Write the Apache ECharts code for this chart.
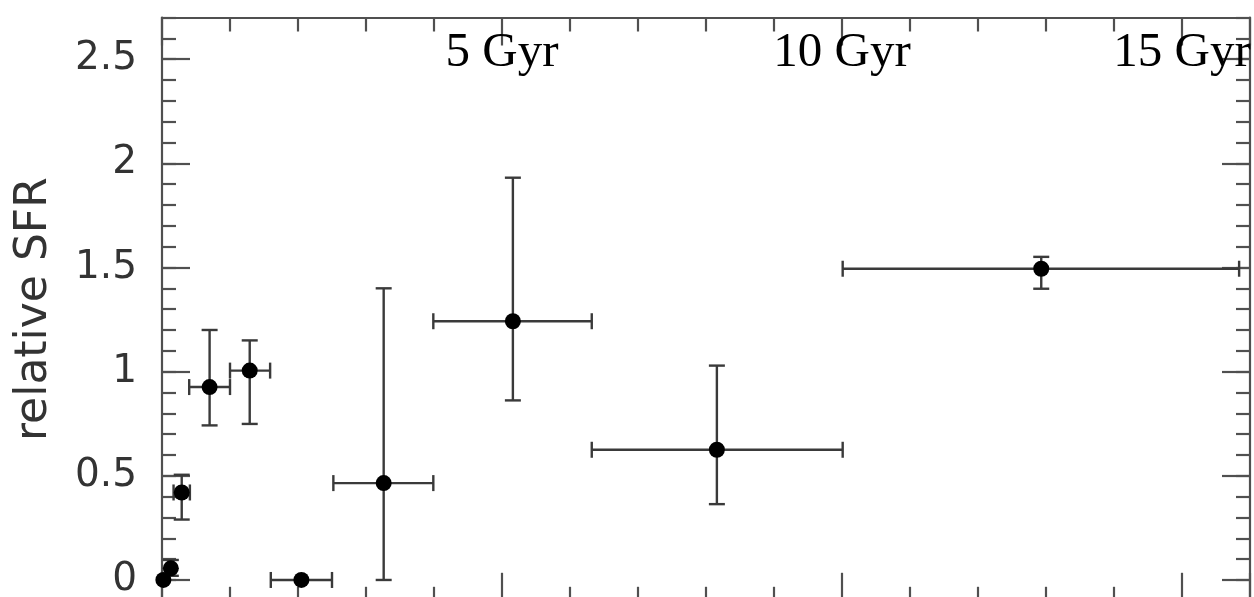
<!DOCTYPE html>
<html><head><meta charset="utf-8">
<script src="https://cdn.jsdelivr.net/npm/echarts@6/dist/echarts.min.js"></script>
<style>html,body{margin:0;padding:0;overflow:hidden;background:#fff}#c{width:1254px;height:606px}</style>
</head><body><div id="c"></div>
<script>
// Age (Gyr) bins and relative star formation rate
const ageX  = [0.02, 0.13, 0.29, 0.70, 1.29, 2.05, 3.26, 5.16, 8.16, 12.93];
const sfr   = [0.00, 0.056, 0.42, 0.926, 1.005, 0.00, 0.465, 1.242, 0.625, 1.494];
const ageLo = [null, null, 0.17, 0.40, 1.00, 1.60, 2.52, 3.99, 6.32, 10.01];
const ageHi = [null, null, 0.41, 1.00, 1.59, 2.50, 3.99, 6.32, 10.01, 15.84];
const sfrLo = [null, 0.02, 0.29, 0.742, 0.749, null, 0.00, 0.862, 0.364, 1.398];
const sfrHi = [null, 0.096, 0.505, 1.20, 1.15, null, 1.40, 1.931, 1.029, 1.551];
const yMajorTicks = [0, 0.5, 1, 1.5, 2, 2.5];
const gyrLabels = ['5 Gyr', '10 Gyr', '15 Gyr'];
const gyrX = [5, 10, 15];
const gyrY = 2.53;

const AX = '#505050';
const chart = echarts.init(document.getElementById('c'), null, {renderer: 'canvas'});

function xAxisDef(pos) {
  return {
    type: 'value', position: pos, min: 0, max: 16, interval: 5,
    axisLine: {show: true, onZero: false, lineStyle: {color: AX, width: 2.2}},
    axisTick: {show: true, inside: true, length: 28, lineStyle: {color: AX, width: 2.2}},
    minorTick: {show: true, splitNumber: 5, length: 14, lineStyle: {color: AX, width: 2.2}},
    axisLabel: {show: false}, splitLine: {show: false}, minorSplitLine: {show: false}
  };
}
function yMajorDef(pos, labels) {
  return {
    type: 'value', position: pos, min: -0.1, max: 2.7,
    axisLine: {show: true, onZero: false, lineStyle: {color: AX, width: 2.2}},
    axisTick: {show: true, inside: true, length: 28, customValues: yMajorTicks, lineStyle: {color: AX, width: 2.2}},
    axisLabel: labels ? {show: true, customValues: yMajorTicks, fontSize: 39, fontFamily: 'DejaVu Sans', color: '#333', margin: 25} : {show: false},
    splitLine: {show: false}
  };
}
function yMinorDef(pos) {
  return {
    type: 'value', position: pos, min: -0.1, max: 2.7, interval: 0.1,
    axisLine: {show: false, onZero: false},
    axisTick: {show: true, inside: true, length: 14, lineStyle: {color: AX, width: 2.2}},
    axisLabel: {show: false}, splitLine: {show: false}
  };
}

const yLeft = yMajorDef('left', true);
yLeft.name = 'relative SFR';
yLeft.nameLocation = 'middle';
yLeft.nameGap = 105;
yLeft.nameTextStyle = {fontSize: 44, fontFamily: 'DejaVu Sans', color: '#333'};

const errData = ageX.map((x, i) => [x, sfr[i], ageLo[i], ageHi[i], sfrLo[i], sfrHi[i]]);
const ptData = ageX.map((x, i) => [x, sfr[i]]);
const txtData = gyrX.map((x, i) => [x, gyrY, i]);

function ok(v) { return v != null && !isNaN(v); }

chart.setOption({
  animation: false,
  backgroundColor: '#fff',
  grid: {left: 162, right: 4, top: 17.5, bottom: 5.2, containLabel: false},
  xAxis: [xAxisDef('bottom'), xAxisDef('top')],
  yAxis: [yLeft, yMinorDef('left'), yMajorDef('right', false), yMinorDef('right')],
  series: [
    {
      type: 'custom', xAxisIndex: 0, yAxisIndex: 0, clip: false, z: 2,
      data: errData,
      encode: {x: 0, y: 1},
      renderItem: function (params, api) {
        const x = api.value(0), y = api.value(1);
        const xl = api.value(2), xh = api.value(3), yl = api.value(4), yh = api.value(5);
        const c = 8;
        const st = {stroke: '#3a3a3a', lineWidth: 2.4};
        const kids = [];
        if (ok(xl) && ok(xh)) {
          const a = api.coord([xl, y]), b = api.coord([xh, y]);
          kids.push({type: 'line', shape: {x1: a[0], y1: a[1], x2: b[0], y2: b[1]}, style: st});
          kids.push({type: 'line', shape: {x1: a[0], y1: a[1] - c, x2: a[0], y2: a[1] + c}, style: st});
          kids.push({type: 'line', shape: {x1: b[0], y1: b[1] - c, x2: b[0], y2: b[1] + c}, style: st});
        }
        if (ok(yl) && ok(yh)) {
          const a = api.coord([x, yl]), b = api.coord([x, yh]);
          kids.push({type: 'line', shape: {x1: a[0], y1: a[1], x2: b[0], y2: b[1]}, style: st});
          kids.push({type: 'line', shape: {x1: a[0] - c, y1: a[1], x2: a[0] + c, y2: a[1]}, style: st});
          kids.push({type: 'line', shape: {x1: b[0] - c, y1: b[1], x2: b[0] + c, y2: b[1]}, style: st});
        }
        return {type: 'group', children: kids};
      }
    },
    {
      type: 'scatter', xAxisIndex: 0, yAxisIndex: 0, clip: false, z: 3,
      symbol: 'circle', symbolSize: 16,
      itemStyle: {color: '#000', opacity: 1},
      data: ptData
    },
    {
      type: 'custom', xAxisIndex: 0, yAxisIndex: 0, clip: false, z: 4,
      data: txtData,
      encode: {x: 0, y: 1},
      renderItem: function (params, api) {
        const p = api.coord([api.value(0), api.value(1)]);
        return {
          type: 'text', x: p[0], y: p[1],
          style: {text: gyrLabels[api.value(2)], fontSize: 49, fontFamily: 'Liberation Serif',
                  fill: '#000', align: 'center', verticalAlign: 'middle'}
        };
      }
    }
  ]
});
</script>
</body></html>
